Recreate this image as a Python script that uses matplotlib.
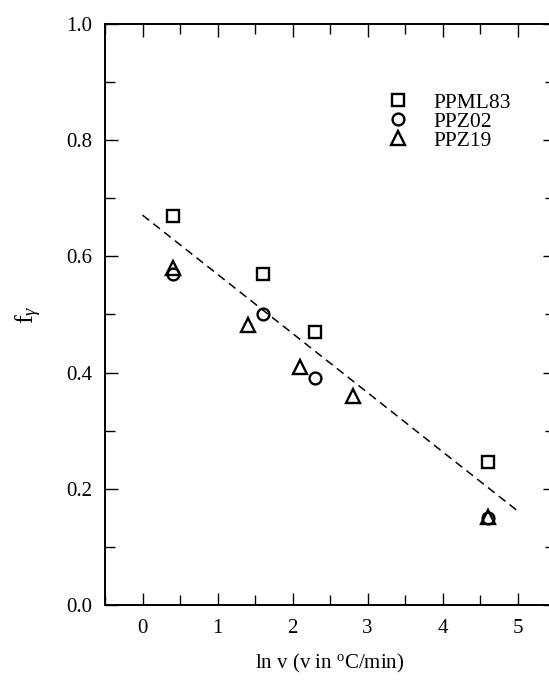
import matplotlib
matplotlib.use("Agg")
import matplotlib.pyplot as plt
from matplotlib.ticker import MultipleLocator

plt.rcParams["font.family"] = ["Liberation Serif", "DejaVu Serif"]
plt.rcParams["mathtext.fontset"] = "custom"
plt.rcParams["mathtext.rm"] = "Liberation Serif"
plt.rcParams["mathtext.it"] = "Liberation Serif:italic"

# PPML83 (squares)
ppml83_x = [0.4, 1.6, 2.3, 4.6]
ppml83_y = [0.67, 0.57, 0.47, 0.246]
# PPZ02 (circles)
ppz02_x = [0.4, 1.6, 2.3, 4.6]
ppz02_y = [0.57, 0.50, 0.39, 0.15]
# PPZ19 (triangles)
ppz19_x = [0.4, 1.4, 2.1, 2.8, 4.6]
ppz19_y = [0.58, 0.482, 0.41, 0.36, 0.152]
# dashed linear fit, end points
fit_x = [0.0, 5.0]
fit_y = [0.671, 0.162]

fig = plt.figure(figsize=(5.49, 6.83), dpi=100)
ax = fig.add_axes([0.1913, 0.1142, 0.8197, 0.8507])

mk = dict(linestyle="none", markerfacecolor="none", markeredgecolor="black",
          markeredgewidth=1.7, color="black")
ax.plot(ppml83_x, ppml83_y, marker="s", markersize=8.5, label="PPML83", **mk)
ax.plot(ppz02_x, ppz02_y, marker="o", markersize=8.5, label="PPZ02", **mk)
ax.plot(ppz19_x, ppz19_y, marker="^", markersize=9.5, label="PPZ19", **mk)
ax.plot(fit_x, fit_y, linestyle=(0, (5.5, 3.5)), color="black", linewidth=1.1)

ax.set_xlim(-0.5, 5.5)
ax.set_ylim(0.0, 1.0)
ax.xaxis.set_major_locator(MultipleLocator(1))
ax.xaxis.set_minor_locator(MultipleLocator(0.5))
ax.yaxis.set_major_locator(MultipleLocator(0.2))
ax.yaxis.set_minor_locator(MultipleLocator(0.1))
ax.set_xticks([0, 1, 2, 3, 4, 5])
ax.set_yticks([0.0, 0.2, 0.4, 0.6, 0.8, 1.0])
ax.set_yticklabels(["0.0", "0.2", "0.4", "0.6", "0.8", "1.0"])
ax.tick_params(which="both", direction="in", top=True, right=True,
               labelsize=15, width=1.0)
ax.tick_params(which="major", length=9)
ax.tick_params(which="minor", length=7)
ax.tick_params(axis="x", which="major", pad=10)
ax.tick_params(axis="y", which="major", pad=9)
for s in ax.spines.values():
    s.set_linewidth(1.4)

ax.set_xlabel(r"ln v (v in $^{\rm o}$C/min)", fontsize=15, labelpad=10)
ax.set_ylabel(r"f$_\gamma$", fontsize=19, rotation=90, labelpad=16)

ax.legend(loc="upper left", bbox_to_anchor=(0.58, 0.915), frameon=False,
          fontsize=15.5, handletextpad=1.03, labelspacing=-0.05, handlelength=1.2)

fig.savefig("out.png", dpi=100)
